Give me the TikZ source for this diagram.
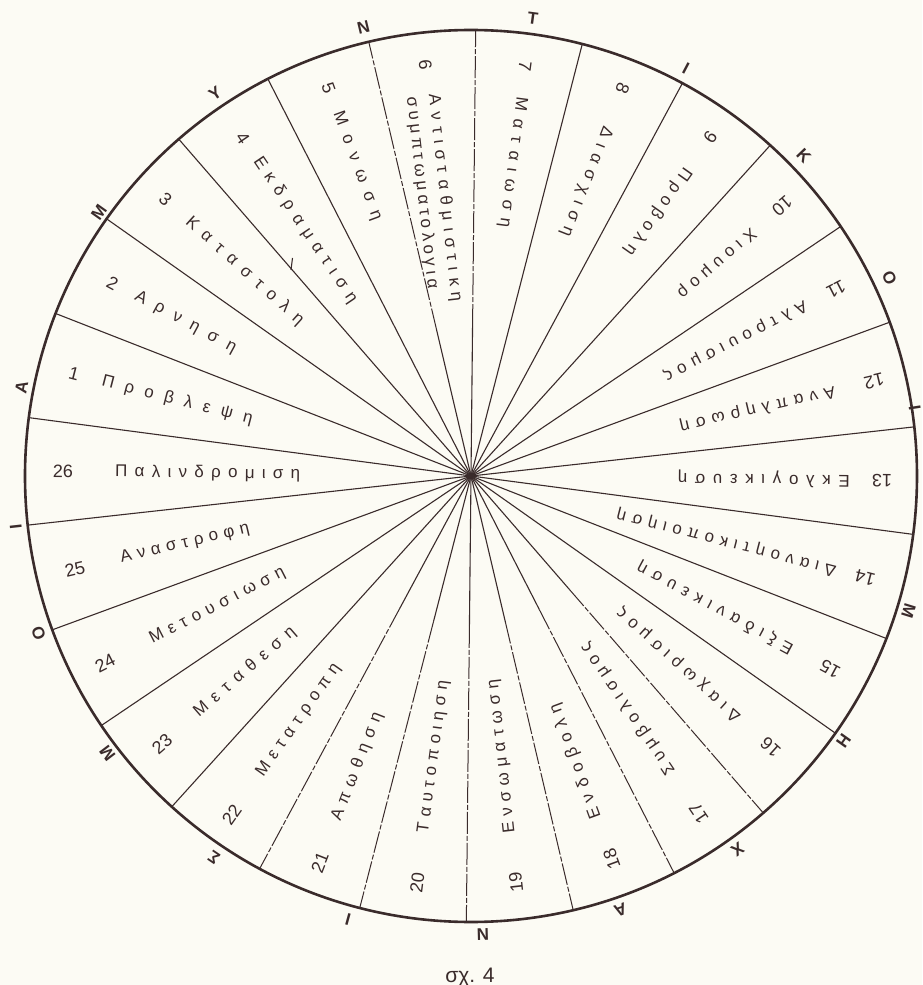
\documentclass[tikz,border=0pt]{standalone}
\usepackage{fontspec}
\setmainfont{Liberation Sans}
\definecolor{ink}{HTML}{3A2B2B}
\definecolor{paper}{HTML}{FCFBF4}
\makeatletter
\newcommand\spreadtxt[2]{\makebox[#1][s]{\def\spsep{}\@tfor\spch:=#2\do{\spsep\spch\def\spsep{\hfil}}}}
\newcommand\spreadx[2]{\begingroup\edef\x{\endgroup\noexpand\spreadtxt{#1}{#2}}\x}
\makeatother
\begin{document}
\begin{tikzpicture}[x=1pt,y=1pt,
  rim/.style={draw=ink, line width=2.6pt},
  spoke/.style={draw=ink, line width=1.1pt},
  faint/.style={draw=ink, line width=1pt, dash pattern=on 22pt off 2pt on 5pt off 2pt},
  numtxt/.style={text=ink, inner sep=0pt, font=\fontsize{18}{20}\selectfont},
  labtxt/.style={text=ink, inner sep=0pt, font=\fontsize{17}{22}\selectfont},
  outer/.style={text=ink, inner sep=0pt, font=\fontsize{17}{20}\selectfont\bfseries},
  captxt/.style={text=ink, inner sep=0pt, font=\fontsize{21}{24}\selectfont}]
\fill[paper] (-471,-509) rectangle (451,476);
\useasboundingbox (-471,-509) rectangle (451,476);
\coordinate (C) at (0,0);
% rays
\foreach \k in {0,...,25}{
  \pgfmathsetmacro\sa{89.4-13.846*\k}
  \coordinate (r\k) at (\sa:446);
  \coordinate (m\k) at (\sa:150);
}
\foreach \k in {1,...,9,16,17,18,19,20,21,22,23,24}{
  \draw[spoke] (C) -- (r\k);
}
\foreach \k in {0,10,11,12,13,14,15,25}{
  \draw[spoke] (C) -- (m\k);
  \draw[faint] (m\k) -- (r\k);
}
\fill[ink] (C) circle[radius=2.5];
\draw[rim] (C) circle[radius=446];
% tick on spoke 3/4
\draw[spoke] (-178.5,218) -- (-180,206);
% sector labels
\foreach \nA/\rN/\tX/\rS/\rE in {
1/410/Προβλεψη/381/226, 2/407/Αρνηση/381/268, 3/412/Καταστολη/382/229,
4/408/Εκδραματιση/383/210, 5/413/Μονωση/388/273, 7/413/Ματαιωση/382/251,
8/416/Διασχιση/375/258, 9/415/Προβολη/376/272, 10/412/Χιουμορ/374/276,
11/410/Αλτρουισμος/376/218, 12/414/Αναπληρωση/374/215, 13/411/Εκλογικευση/379/207,
14/407/Διανοητικοποιηση/377/151, 15/408/Εξιδανικευση/365/190, 16/404/Διαχωρισμος/361/200,
17/407/Συμβολισμος/359/203, 18/408/Ενδοβολη/365/243, 19/409/Ενσωματωση/359/205,
20/410/Ταυτοποιηση/360/207, 21/415/Απωθηση/370/255, 22/415/Μετατροπη/366/232,
23/409/Μεταθεση/364/235, 24/411/Μετουσιωση/360/210, 25/407/Αναστροφη/360/228,
26/408/Παλινδρομιση/356/171}{
  \pgfmathsetmacro\secang{82.477-13.846*(\nA-7)}
  \pgfmathsetmacro\secrot{\secang-180}
  \pgfmathsetmacro\seclen{\rS-\rE}
  \node[numtxt, rotate=\secrot] (n\nA) at (\secang:\rN) {\nA};
  \node[labtxt, rotate=\secrot, anchor=west] (t\nA) at (\secang:\rS) {\spreadx{\seclen pt}{\tX}};
}
% sector 6 (two lines)
\node[numtxt, rotate=-83.677] (n6) at (96.323:414) {6};
\node[labtxt, rotate=-83.677, anchor=west, align=left] (t6) at (97.3:384)
  {\spreadtxt{209pt}{Αντισταθμιστικη}\\\spreadtxt{193pt}{συμπτωματολογια}};
% outer letters
\foreach \oa/\oL/\orad [count=\oi] in {168.9/Α/458,144.7/Μ/456,123.8/Υ/460,103.5/Ν/461,82.3/Τ/462,62.2/Ι/461,43.9/Κ/462,25.3/Ο/463,8.7/Ι/449,
  -17.2/Μ/458,-35.4/Η/457,-54.5/Χ/459,-71/Α/459,-88.5/Ν/459,-105.5/Ι/460,-124/Σ/460,-142.7/Μ/457,-160/Ο/460,-173.6/Ι/458}{
  \pgfmathsetmacro\orot{\oa-90}
  \node[outer, rotate=\orot] (o\oi) at (\oa:\orad) {\oL};
}
% caption
\node[captxt, anchor=base] (cap) at (-1,-506) {σχ. 4};
\end{tikzpicture}
\end{document}
